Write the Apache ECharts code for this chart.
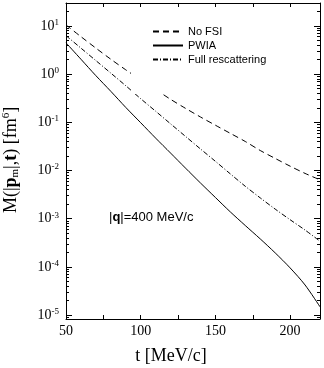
<!DOCTYPE html>
<html>
<head>
<meta charset="utf-8">
<script src="https://cdn.jsdelivr.net/npm/echarts@6/dist/echarts.min.js"></script>
<style>
html, body { margin: 0; padding: 0; background: #fff; }
#chart { width: 324px; height: 368px; }
</style>
</head>
<body>
<div id="chart"></div>
<script>
// t [MeV/c]
var tValues = [50, 60, 70, 80, 90, 100, 110, 120, 130, 140, 150, 160, 170, 180, 190, 200, 210, 220];
// M(|p_m|,t) [fm^6]
var noFsi = [10.5, 6.0, 3.47, 2.04, 1.23, 0.76, 0.48, 0.30, 0.195, 0.129, 0.087, 0.059, 0.040, 0.026, 0.0178, 0.0123, 0.0087, 0.0064];
var pwia = [4.47, 2.04, 0.93, 0.44, 0.204, 0.098, 0.047, 0.023, 0.0112, 0.0055, 0.00275, 0.00138, 0.00072, 0.00038, 0.000195, 0.000095, 0.000042, 0.0000148];
var fullResc = [6.3, 3.47, 1.91, 1.05, 0.575, 0.309, 0.170, 0.093, 0.051, 0.028, 0.0155, 0.0085, 0.0047, 0.0027, 0.00158, 0.00095, 0.00058, 0.00034];
var seriesNames = ["No FSI", "PWIA", "Full rescattering"];
// 对数轴刻度（指数）
var yTickExp = [-5, -4, -3, -2, -1, 0, 1];
var xTickLabels = [50, 100, 150, 200];

var yMin = -5.083, yMax = 1.477;
var serif = "Liberation Serif";
var sans = "Liberation Sans";

// 次刻度 2..9 x 10^n
function minorTicks() {
	var arr = [];
	for (var n = -6; n <= 1; n++) {
		for (var k = 2; k <= 9; k++) {
			var v = Math.log10(k) + n;
			if (v > yMin && v < yMax) {
				arr.push(v);
			}
		}
	}
	return arr;
}

function toLog(list) {
	var out = [];
	for (var i = 0; i < list.length; i++) {
		out.push([tValues[i], Math.log10(list[i])]);
	}
	return out;
}

function yAxisOf(pos, major, showLabel) {
	return {
		type: 'value',
		position: pos,
		min: yMin,
		max: yMax,
		splitLine: { show: false },
		axisLine: { show: major, lineStyle: { color: '#000', width: 1 } },
		axisTick: {
			show: true,
			inside: true,
			length: major ? 6 : 3,
			customValues: major ? yTickExp : minorTicks(),
			lineStyle: { color: '#000', width: 1 }
		},
		axisLabel: {
			show: showLabel,
			customValues: yTickExp,
			margin: 7,
			formatter: function(v) {
				return '{b|10}{s|' + Math.round(v) + '}';
			},
			rich: {
				b: { fontFamily: serif, fontSize: 14, color: '#000', lineHeight: 16 },
				s: { fontFamily: serif, fontSize: 9, color: '#000', lineHeight: 10, verticalAlign: 'top' }
			}
		}
	};
}

function xAxisOf(pos, showLabel) {
	return {
		type: 'value',
		position: pos,
		min: 50,
		max: 220,
		interval: 25,
		splitLine: { show: false },
		axisLine: { show: true, onZero: false, lineStyle: { color: '#000', width: 1 } },
		axisTick: { show: true, inside: true, length: 4, lineStyle: { color: '#000' } },
		axisLabel: {
			show: showLabel,
			margin: 5,
			fontFamily: serif,
			fontSize: 14,
			color: '#000',
			showMaxLabel: false,
			formatter: function(v) {
				return xTickLabels.indexOf(v) >= 0 ? String(v) : '';
			}
		}
	};
}

var myChart = echarts.init(document.getElementById('chart'), null, { renderer: 'canvas' });
var lineTypes = [[6, 4], 'solid', [5, 2, 1, 2]];
var dataList = [noFsi, pwia, fullResc];
var series = [];
for (var i = 0; i < dataList.length; i++) {
	series.push({
		name: seriesNames[i],
		type: 'line',
		xAxisIndex: 0,
		yAxisIndex: 0,
		symbol: 'none',
		smooth: 0.3,
		animation: false,
		lineStyle: { color: '#000', width: 1, type: lineTypes[i] },
		itemStyle: { color: '#000' },
		data: toLog(dataList[i])
	});
}

var option = {
	animation: false,
	backgroundColor: '#fff',
	grid: { left: 66, right: 4, top: 3, bottom: 49, containLabel: false, outerBoundsMode: 'none' },
	legend: {
		orient: 'vertical',
		left: 131,
		top: 20,
		padding: [6, 20, 29, 21],
		backgroundColor: '#fff',
		itemWidth: 30,
		itemHeight: 10,
		itemGap: 3,
		itemStyle: { opacity: 0 },
		textStyle: { fontFamily: sans, fontSize: 11, color: '#000' },
		data: seriesNames
	},
	xAxis: [xAxisOf('bottom', true), xAxisOf('top', false)],
	yAxis: [yAxisOf('left', true, true), yAxisOf('left', false, false), yAxisOf('right', true, false), yAxisOf('right', false, false)],
	graphic: [{
		type: 'text',
		x: 11,
		y: 160,
		rotation: Math.PI / 2,
		style: {
			text: '{r|M(|}{pb|p}{sub|m}{r||,}{pb|t}{r|) [fm}{sup|6}{r|]}',
			align: 'center',
			verticalAlign: 'middle',
			rich: {
				r: { fontFamily: serif, fontSize: 18, fill: '#000', lineHeight: 20 },
				pb: { fontFamily: serif, fontSize: 18, fontWeight: 'bold', fill: '#000', lineHeight: 20 },
				sub: { fontFamily: serif, fontSize: 11, fill: '#000', lineHeight: 12, verticalAlign: 'bottom' },
				sup: { fontFamily: serif, fontSize: 11, fill: '#000', lineHeight: 12, verticalAlign: 'top' }
			}
		}
	}, {
		type: 'text',
		x: 171,
		y: 356,
		style: {
			text: 't [MeV/c]',
			font: '18px "Liberation Serif"',
			fill: '#000',
			align: 'center',
			verticalAlign: 'middle'
		}
	}, {
		type: 'text',
		x: 109,
		y: 217,
		style: {
			text: '{n||}{b|q}{n||=400 MeV/c}',
			verticalAlign: 'middle',
			rich: {
				n: { fontFamily: sans, fontSize: 13, fill: '#000' },
				b: { fontFamily: sans, fontSize: 13, fontWeight: 'bold', fill: '#000' }
			}
		}
	}],
	series: series
};

myChart.setOption(option, true);
</script>
</body>
</html>
